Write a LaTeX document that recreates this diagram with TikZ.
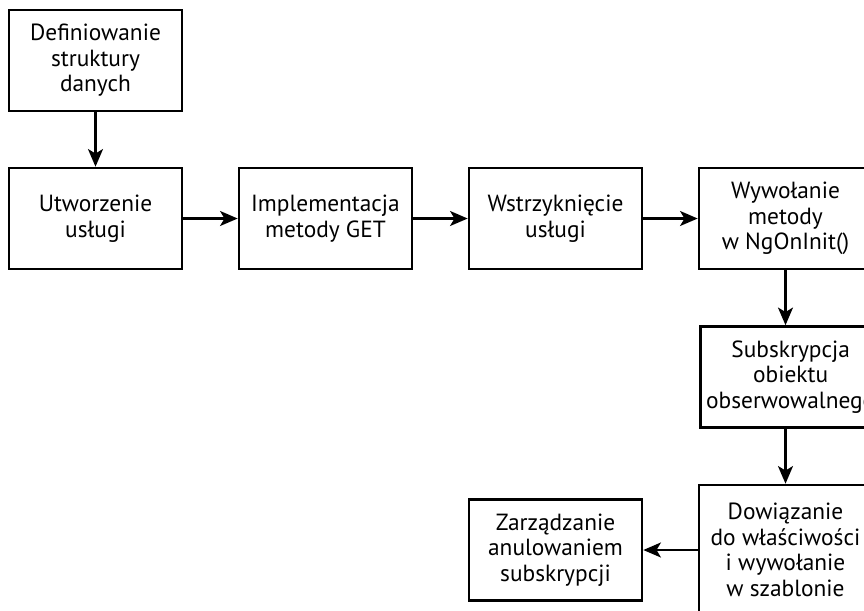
\documentclass[tikz,border=0pt]{standalone}
\usepackage{fontspec}
\setmainfont{PT Sans}
\usetikzlibrary{arrows.meta}

\begin{document}
\begin{tikzpicture}
\tikzset{krok/.style={draw,line width=1.5pt,minimum width=3.46cm,minimum height=2.02cm,
            align=center,font=\fontsize{13.3}{14.5}\selectfont},
         strzalka/.style={line width=1.3pt,-{Stealth[length=10pt,width=8.5pt,inset=2.5pt]}}}
\useasboundingbox (0,0) rectangle (17.28,-12.2);
\node[krok] (dane) at (1.91,-1.21) {Definiowanie\\ struktury\\ danych};
\node[krok] (usluga) at (1.91,-4.37) {Utworzenie\\ usługi};
\node[krok] (get) at (6.51,-4.37) {Implementacja\\ metody GET};
\node[krok] (wstrz) at (11.11,-4.37) {Wstrzyknięcie\\ usługi};
\node[krok] (init) at (15.71,-4.37) {Wywołanie\\ metody\\ w NgOnInit()};
\node[krok,anchor=west] (subs) at (13.98,-7.54) {Subskrypcja\\ obiektu\\ obserwowalnego};
\node[krok,minimum height=2.6cm] (wiaz) at (15.71,-11.0) {Dowiązanie\\ do właściwości\\ i wywołanie\\ w szablonie};
\node[krok] (anul) at (11.11,-11.0) {Zarządzanie\\ anulowaniem\\ subskrypcji};
\draw[strzalka] (dane) -- (usluga);
\draw[strzalka] (usluga) -- (get);
\draw[strzalka] (get) -- (wstrz);
\draw[strzalka] (wstrz) -- (init);
\draw[strzalka] (init) -- (init |- subs.north);
\draw[strzalka] (init |- subs.south) -- (wiaz);
\draw[strzalka] (wiaz.west |- anul.east) -- (anul);
\end{tikzpicture}
\end{document}
